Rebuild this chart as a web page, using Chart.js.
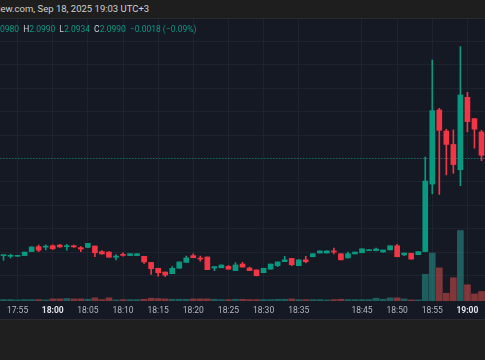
<!DOCTYPE html>
<html>
<head>
<meta charset="utf-8">
<script src="https://cdn.jsdelivr.net/npm/chart.js@4.4.1/dist/chart.umd.min.js"></script>
<style>
  html, body { margin: 0; padding: 0; background: #1f1f1f; width: 485px; height: 360px; overflow: hidden; }
  #top { position: absolute; left: 0; top: 0; width: 485px; height: 18px; background: #1e1e1e; border-bottom: 1px solid #2c2c2c; overflow: hidden; }
  #src { position: absolute; top: 3px; white-space: nowrap; font: 9.5px Roboto; color: #cfcfcf; }
  #box { position: absolute; left: 0; top: 19px; width: 485px; height: 300px; background: #151924; border-bottom: 1px solid #2c2c2c; overflow: hidden; }
  #legend { position: absolute; top: 5px; white-space: nowrap; font: 8.5px Roboto; color: #c9ccd4; }
  #legend .v { color: #089981; }
  #legend .gap { margin-left: 4px; }
  canvas { position: absolute; left: 0; top: 0; }
</style>
</head>
<body>
<div id="top"><span id="src">TradingView.com, Sep 18, 2025 19:03 UTC+3</span></div>
<div id="box">
  <canvas id="chart" width="485" height="300"></canvas>
  <div id="legend">O<span class="v">2.0980</span><span class="gap">H</span><span class="v">2.0990</span><span class="gap">L</span><span class="v">2.0934</span><span class="gap">C</span><span class="v">2.0990</span><span class="gap v">&minus;0.0018 (&minus;0.09%)</span></div>
</div>
<script>
// 1 minute bars, 18:40 has no bar
var times = ['17:53','17:54','17:55','17:56','17:57','17:58','17:59',
  '18:00','18:01','18:02','18:03','18:04','18:05','18:06','18:07','18:08','18:09',
  '18:10','18:11','18:12','18:13','18:14','18:15','18:16','18:17','18:18','18:19',
  '18:20','18:21','18:22','18:23','18:24','18:25','18:26','18:27','18:28','18:29',
  '18:30','18:31','18:32','18:33','18:34','18:35','18:36','18:37','18:38','18:39',
  '18:41','18:42','18:43','18:44','18:45','18:46','18:47','18:48','18:49',
  '18:50','18:51','18:52','18:53','18:54','18:55','18:56','18:57','18:58','18:59',
  '19:00','19:01','19:02'];

var opens = [2.09486,2.09483,2.09483,2.09486,2.09503,2.09524,2.09522,
  2.09528,2.09531,2.09524,2.09528,2.09520,2.09521,2.09527,2.09503,2.09501,2.09479,
  2.09490,2.09486,2.09486,2.09483,2.09457,2.09432,2.09416,2.09409,2.09432,2.09457,
  2.09486,2.09474,2.09480,2.09433,2.09434,2.09440,2.09422,2.09450,2.09433,2.09425,
  2.09413,2.09428,2.09443,2.09460,2.09474,2.09443,2.09468,2.09481,2.09497,2.09497,
  2.09506,2.09494,2.09476,2.09493,2.09498,2.09507,2.09507,2.09501,2.09510,
  2.09528,2.09489,2.09496,2.09490,2.09503,2.09791,2.10107,2.10017,2.09960,2.09852,
  2.10161,2.10070,2.10013];

var highs = [2.09486,2.09492,2.09483,2.09501,2.09523,2.09531,2.09532,
  2.09532,2.09534,2.09534,2.09531,2.09524,2.09538,2.09527,2.09507,2.09503,2.09490,
  2.09498,2.09494,2.09494,2.09483,2.09457,2.09432,2.09416,2.09439,2.09459,2.09484,
  2.09494,2.09484,2.09480,2.09439,2.09446,2.09444,2.09456,2.09457,2.09437,2.09425,
  2.09432,2.09450,2.09459,2.09483,2.09474,2.09468,2.09483,2.09494,2.09506,2.09506,
  2.09518,2.09494,2.09501,2.09501,2.09515,2.09510,2.09518,2.09510,2.09528,
  2.09534,2.09497,2.09496,2.09503,2.09906,2.10320,2.10114,2.10025,2.10022,2.10377,
  2.10182,2.10070,2.10020];

var lows = [2.09466,2.09476,2.09483,2.09486,2.09503,2.09503,2.09510,
  2.09512,2.09521,2.09509,2.09521,2.09503,2.09520,2.09481,2.09492,2.09479,2.09468,
  2.09484,2.09486,2.09486,2.09453,2.09406,2.09398,2.09396,2.09409,2.09432,2.09457,
  2.09477,2.09462,2.09426,2.09422,2.09434,2.09428,2.09422,2.09437,2.09422,2.09400,
  2.09413,2.09428,2.09439,2.09460,2.09443,2.09443,2.09455,2.09481,2.09497,2.09497,
  2.09493,2.09468,2.09476,2.09493,2.09498,2.09507,2.09506,2.09501,2.09510,
  2.09481,2.09486,2.09471,2.09490,2.09503,2.09749,2.09747,2.09830,2.09837,2.09784,
  2.10014,2.09944,2.09891];

var closes = [2.09486,2.09483,2.09483,2.09501,2.09523,2.09509,2.09523,
  2.09515,2.09523,2.09528,2.09523,2.09514,2.09538,2.09498,2.09493,2.09479,2.09484,
  2.09487,2.09494,2.09494,2.09459,2.09430,2.09413,2.09403,2.09432,2.09459,2.09476,
  2.09477,2.09471,2.09426,2.09439,2.09446,2.09428,2.09446,2.09437,2.09422,2.09400,
  2.09432,2.09450,2.09459,2.09468,2.09447,2.09468,2.09460,2.09494,2.09506,2.09506,
  2.09501,2.09468,2.09494,2.09501,2.09515,2.09510,2.09514,2.09510,2.09528,
  2.09481,2.09497,2.09471,2.09503,2.09804,2.10104,2.10020,2.09960,2.09874,2.10171,
  2.10057,2.10025,2.09914];

// volume, thousands
var volumes = [2,2,1.5,2,2,2,1.5,
  3,3,3.5,3,3,2.5,4.5,2,4.5,1.5,
  2,2,2,2.5,4,3.5,3,2.5,2.5,2.5,
  3,3,3,2.5,2,2,2.5,2.5,2,2,
  2,2,2.5,2.5,3,2,2,2,2,1.5,
  2,2.5,2,2,2,2,4,2.5,4.5,
  4.5,3,1.5,1.5,38,68,47,11,33,100,
  23,10,13.5];

var lastPrice = 2.0990;

var UP = '#089981', DOWN = '#f23645';
var UP_VOL = 'rgba(38,166,154,0.5)', DOWN_VOL = 'rgba(239,83,80,0.5)';

var isUp = times.map(function(t, i) { return closes[i] >= opens[i]; });

// clip the left part of the header texts like in the screenshot
function measure(txt, size) {
  var c = document.createElement('canvas').getContext('2d');
  c.font = size + 'px Roboto';
  return c.measureText(txt).width;
}
document.getElementById('src').style.left = (-measure('TradingVi', 9.5) + 0.5) + 'px';
document.getElementById('legend').style.left = (-measure('O2.', 8.5)) + 'px';

// dotted last price line
var priceLine = {
  id: 'priceLine',
  beforeDatasetsDraw: function(chart) {
    var y = chart.scales.y.getPixelForValue(lastPrice);
    var ctx = chart.ctx, a = chart.chartArea;
    ctx.save();
    ctx.strokeStyle = 'rgba(8,153,129,0.55)';
    ctx.lineWidth = 1;
    ctx.setLineDash([1.5, 1.5]);
    ctx.beginPath();
    ctx.moveTo(a.left, Math.round(y) + 0.5);
    ctx.lineTo(a.right, Math.round(y) + 0.5);
    ctx.stroke();
    ctx.restore();
  }
};

function isHour(lbl) { return lbl && lbl.slice(3) === '00'; }

new Chart(document.getElementById('chart'), {
  type: 'bar',
  data: {
    labels: times,
    datasets: [{
      label: 'body',
      data: times.map(function(t, i) { return [opens[i], closes[i]]; }),
      backgroundColor: isUp.map(function(u) { return u ? UP : DOWN; }),
      barThickness: 5,
      minBarLength: 1,
      grouped: false,
      yAxisID: 'y',
      order: 1
    }, {
      label: 'wick',
      data: times.map(function(t, i) { return [lows[i], highs[i]]; }),
      backgroundColor: isUp.map(function(u) { return u ? UP : DOWN; }),
      barThickness: 1,
      minBarLength: 1,
      grouped: false,
      yAxisID: 'y',
      order: 2
    }, {
      label: 'volume',
      data: volumes,
      backgroundColor: isUp.map(function(u) { return u ? UP_VOL : DOWN_VOL; }),
      barThickness: 6,
      grouped: false,
      yAxisID: 'yv',
      order: 3
    }]
  },
  options: {
    responsive: false,
    animation: false,
    layout: { padding: 0 },
    plugins: { legend: { display: false }, tooltip: { enabled: false } },
    scales: {
      x: {
        offset: true,
        border: { display: false },
        grid: { offset: false, drawTicks: false, color: '#1f2330' },
        afterFit: function(s) { s.height = 18; },
        ticks: {
          autoSkip: false,
          maxRotation: 0,
          padding: 5,
          callback: function(v) {
            var lbl = this.getLabelForValue(v);
            return parseInt(lbl.slice(3), 10) % 5 === 0 ? lbl : null;
          },
          color: function(ctx) { return isHour(ctx.tick && ctx.tick.label) ? '#e0e3eb' : '#b2b5be'; },
          font: function(ctx) {
            return { family: 'Roboto', size: 8.5, weight: isHour(ctx.tick && ctx.tick.label) ? 'bold' : 'normal' };
          }
        }
      },
      y: {
        position: 'right',
        min: 2.092924,
        max: 2.104948,
        border: { display: false },
        afterFit: function(s) { s.width = 0; },
        ticks: { display: false, stepSize: 0.001 },
        grid: {
          drawTicks: false,
          color: function(ctx) {
            var v = ctx.tick.value * 1000;
            return Math.abs(v - Math.round(v)) < 1e-6 ? '#1f2330' : 'rgba(0,0,0,0)';
          }
        }
      },
      yv: {
        display: false,
        min: 0,
        max: 400
      }
    }
  },
  plugins: [priceLine]
});
</script>
</body>
</html>
